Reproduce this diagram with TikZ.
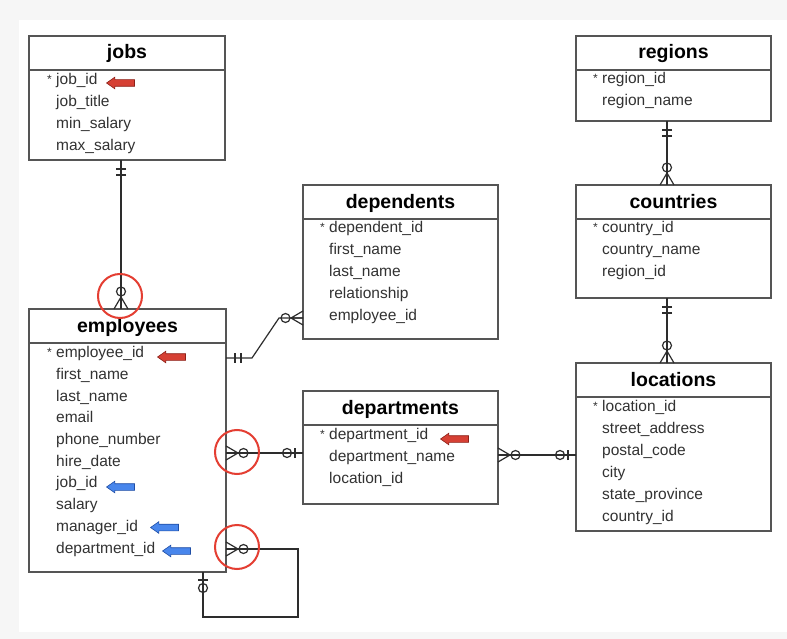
\documentclass[tikz,border=0pt]{standalone}
\usepackage{fontspec}
\setmainfont{Liberation Sans}
\usetikzlibrary{shapes.arrows}
\definecolor{boxgray}{RGB}{85,85,85}
\definecolor{linegray}{RGB}{45,45,45}
\definecolor{txtgray}{RGB}{50,50,50}
\definecolor{pkred}{RGB}{214,64,52}
\definecolor{pkredd}{RGB}{140,32,24}
\definecolor{fkblue}{RGB}{72,134,236}
\definecolor{fkblued}{RGB}{32,78,165}
\definecolor{hlred}{RGB}{228,62,50}
\definecolor{bggray}{RGB}{246,246,246}

\tikzset{
  tbl/.style={draw=boxgray, line width=1.8pt, minimum width=196pt, inner sep=0pt, outer sep=0pt},
  hdr/.style={boxgray, line width=1.8pt},
  ttl/.style={font=\fontsize{19.5}{22}\selectfont\bfseries, text height=14pt, text depth=4pt, inner sep=0pt},
  attr/.style={font=\fontsize{15.5}{18}\selectfont, text=txtgray, anchor=west, text height=11pt, text depth=3.5pt, inner sep=0pt},
  pkstar/.style={attr, anchor=east, font=\fontsize{12}{12}\selectfont, yshift=1.5pt},
  rel/.style={linegray, line width=1.2pt},
  hl/.style={circle, draw=hlred, line width=2pt, minimum size=44pt, inner sep=0pt},
  keyarrow/.style={single arrow, shape border rotate=180, line width=0.6pt, inner xsep=0pt, inner ysep=3pt,
    minimum height=28pt, minimum width=11pt, single arrow head extend=2.5pt, single arrow tip angle=70, anchor=tip},
  pkarrow/.style={keyarrow, draw=pkredd, fill=pkred},
  fkarrow/.style={keyarrow, draw=fkblued, fill=fkblue},
  onlyone/.pic={\draw (9,-5) -- (9,5) (15,-5) -- (15,5);},
  zeromany/.pic={\draw (0,-7) -- (12,0) -- (0,7) (0,0) -- (12,0); \draw (17.5,0) circle (4.5pt);},
  zeroone/.pic={\draw (8,-5) -- (8,5); \draw (16,0) circle (4.5pt);}
}

\begin{document}
\begin{tikzpicture}[x=1pt, y=-1pt]
   \useasboundingbox (0,0) rectangle (787,639);
   \fill[bggray] (0,0) rectangle (787,639);
   \fill[white] (19,20) rectangle (787,632);

   % tables
   \node[tbl, minimum height=124pt] (jobs) at (127,98) {};
   \node[tbl, minimum height=263pt, minimum width=197pt] (employees) at (127.5,440.5) {};
   \node[tbl, minimum height=154pt, minimum width=195pt] (dependents) at (400.5,262) {};
   \node[tbl, minimum height=113pt, minimum width=195pt] (departments) at (400.5,447.5) {};
   \node[tbl, minimum height=85pt, minimum width=195pt] (regions) at (673.5,78.5) {};
   \node[tbl, minimum height=113pt, minimum width=195pt] (countries) at (673.5,241.5) {};
   \node[tbl, minimum height=168pt, minimum width=195pt] (locations) at (673.5,447) {};

   \node[ttl] (jobsT) at ([yshift=-18pt]jobs.north) {jobs};
   \node[ttl] (employeesT) at ([yshift=-18pt]employees.north) {employees};
   \node[ttl] (dependentsT) at ([yshift=-18pt]dependents.north) {dependents};
   \node[ttl] (departmentsT) at ([yshift=-18pt]departments.north) {departments};
   \node[ttl] (regionsT) at ([yshift=-18pt]regions.north) {regions};
   \node[ttl] (countriesT) at ([yshift=-18pt]countries.north) {countries};
   \node[ttl] (locationsT) at ([yshift=-18pt]locations.north) {locations};

   \draw[hdr] ([yshift=-34pt]jobs.north west) -- ([yshift=-34pt]jobs.north east);
   \draw[hdr] ([yshift=-34pt]employees.north west) -- ([yshift=-34pt]employees.north east);
   \draw[hdr] ([yshift=-34pt]dependents.north west) -- ([yshift=-34pt]dependents.north east);
   \draw[hdr] ([yshift=-34pt]departments.north west) -- ([yshift=-34pt]departments.north east);
   \draw[hdr] ([yshift=-34pt]regions.north west) -- ([yshift=-34pt]regions.north east);
   \draw[hdr] ([yshift=-34pt]countries.north west) -- ([yshift=-34pt]countries.north east);
   \draw[hdr] ([yshift=-34pt]locations.north west) -- ([yshift=-34pt]locations.north east);

   % jobs
   \node[attr] (j1) at (56,81) {job\_id};
   \node[pkstar] (j0) at ([xshift=-4pt]j1.west) {*};
   \node[attr] (j2) at (56,102.8) {job\_title};
   \node[attr] (j3) at (56,124.6) {min\_salary};
   \node[attr] (j4) at (56,146.4) {max\_salary};

   % employees
   \node[attr] (e1) at (56,354) {employee\_id};
   \node[pkstar] (e0) at ([xshift=-4pt]e1.west) {*};
   \node[attr] (e2) at (56,375.7) {first\_name};
   \node[attr] (e3) at (56,397.4) {last\_name};
   \node[attr] (e4) at (56,419.1) {email};
   \node[attr] (e5) at (56,440.8) {phone\_number};
   \node[attr] (e6) at (56,462.5) {hire\_date};
   \node[attr] (e7) at (56,484.2) {job\_id};
   \node[attr] (e8) at (56,505.9) {salary};
   \node[attr] (e9) at (56,527.6) {manager\_id};
   \node[attr] (e10) at (56,549.3) {department\_id};

   % dependents
   \node[attr] (d1) at (329,229) {dependent\_id};
   \node[pkstar] (d0) at ([xshift=-4pt]d1.west) {*};
   \node[attr] (d2) at (329,251) {first\_name};
   \node[attr] (d3) at (329,273) {last\_name};
   \node[attr] (d4) at (329,295) {relationship};
   \node[attr] (d5) at (329,317) {employee\_id};

   % departments
   \node[attr] (p1) at (329,436) {department\_id};
   \node[pkstar] (p0) at ([xshift=-4pt]p1.west) {*};
   \node[attr] (p2) at (329,458) {department\_name};
   \node[attr] (p3) at (329,479.5) {location\_id};

   % regions, countries, locations
   \node[attr] (r1) at (602,80) {region\_id};
   \node[pkstar] (r0) at ([xshift=-4pt]r1.west) {*};
   \node[attr] (r2) at (602,102) {region\_name};

   \node[attr] (c1) at (602,229) {country\_id};
   \node[pkstar] (c0) at ([xshift=-4pt]c1.west) {*};
   \node[attr] (c2) at (602,251) {country\_name};
   \node[attr] (c3) at (602,273) {region\_id};

   \node[attr] (l1) at (602,408) {location\_id};
   \node[pkstar] (l0) at ([xshift=-4pt]l1.west) {*};
   \node[attr] (l2) at (602,430) {street\_address};
   \node[attr] (l3) at (602,452) {postal\_code};
   \node[attr] (l4) at (602,474) {city};
   \node[attr] (l5) at (602,496) {state\_province};
   \node[attr] (l6) at (602,517.5) {country\_id};

   % key arrows
   \node[pkarrow] (ja) at (106,83) {};
   \node[pkarrow] (ea) at (157,357) {};
   \node[pkarrow] (pa) at (440,439) {};
   \node[fkarrow] (eb1) at (106,487) {};
   \node[fkarrow] (eb2) at (150,527.5) {};
   \node[fkarrow] (eb3) at (162,551) {};

   % relations
   \coordinate (ed1) at (252,358);
   \coordinate (ed2) at (279,318);
   \coordinate (selfr) at (298,617);

   \draw[rel] ([xshift=-6pt]jobs.south) -- ([xshift=-6.5pt]employees.north);
   \pic[rel, rotate=-90] at ([xshift=-6pt]jobs.south) {onlyone};
   \pic[rel, rotate=90] at ([xshift=-6.5pt]employees.north) {zeromany};

   \draw[rel] ([yshift=82.5pt]employees.east) -- (ed1) -- (ed2) -- ([yshift=-56pt]dependents.west);
   \pic[rel] at ([yshift=82.5pt]employees.east) {onlyone};
   \pic[rel, rotate=180] at ([yshift=-56pt]dependents.west) {zeromany};

   \draw[rel] ([yshift=-12.5pt]employees.east) -- ([yshift=-5.5pt]departments.west);
   \pic[rel] at ([yshift=-12.5pt]employees.east) {zeromany};
   \pic[rel, rotate=180] at ([yshift=-5.5pt]departments.west) {zeroone};

   \draw[rel] ([yshift=-7.5pt]departments.east) -- ([yshift=-8pt]locations.west);
   \pic[rel] at ([yshift=-7.5pt]departments.east) {zeromany};
   \pic[rel, rotate=180] at ([yshift=-8pt]locations.west) {zeroone};

   \draw[rel] ([xshift=-6.5pt]regions.south) -- ([xshift=-6.5pt]countries.north);
   \pic[rel, rotate=-90] at ([xshift=-6.5pt]regions.south) {onlyone};
   \pic[rel, rotate=90] at ([xshift=-6.5pt]countries.north) {zeromany};

   \draw[rel] ([xshift=-6.5pt]countries.south) -- ([xshift=-6.5pt]locations.north);
   \pic[rel, rotate=-90] at ([xshift=-6.5pt]countries.south) {onlyone};
   \pic[rel, rotate=90] at ([xshift=-6.5pt]locations.north) {zeromany};

   \draw[rel] ([yshift=-108.5pt]employees.east) -| (selfr) -| ([xshift=75.5pt]employees.south);
   \pic[rel] at ([yshift=-108.5pt]employees.east) {zeromany};
   \pic[rel, rotate=-90] at ([xshift=75.5pt]employees.south) {zeroone};

   % highlights
   \node[hl] (hl1) at (120,296) {};
   \node[hl] (hl2) at (237,452) {};
   \node[hl] (hl3) at (237,547) {};
\end{tikzpicture}
\end{document}
